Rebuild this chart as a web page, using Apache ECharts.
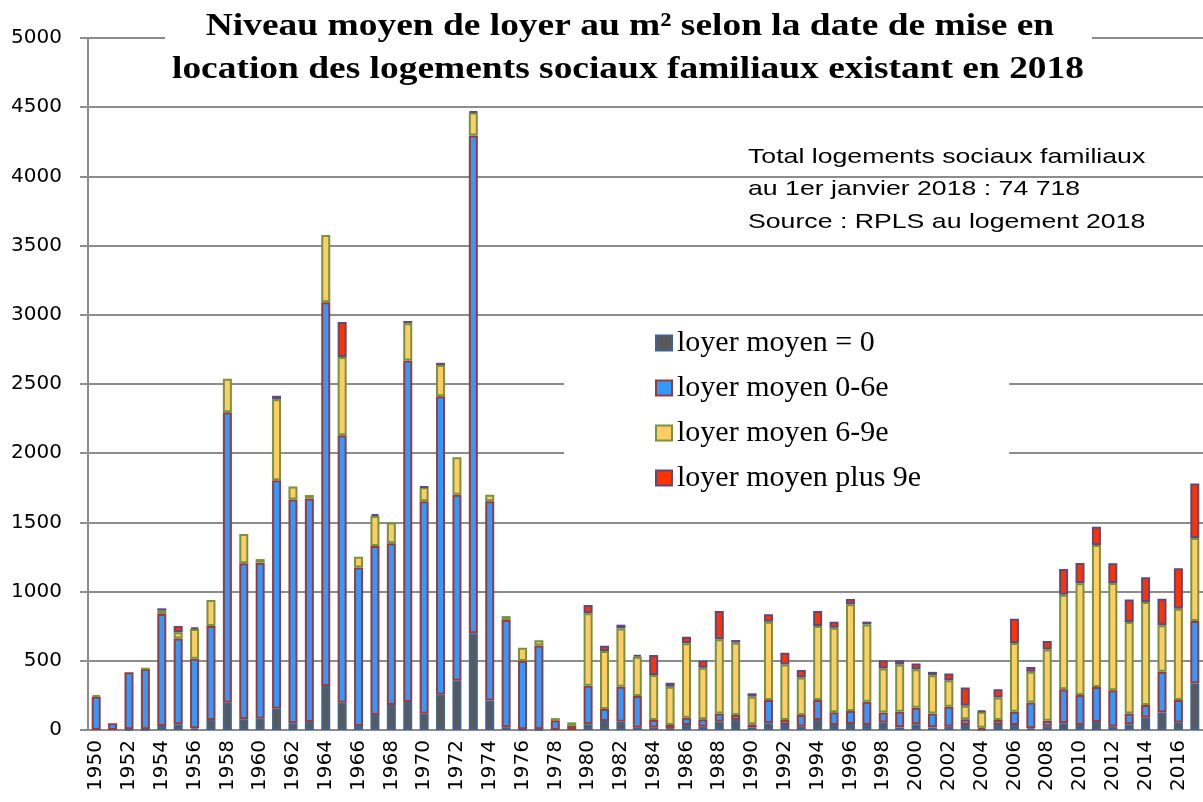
<!DOCTYPE html>
<html>
<head>
<meta charset="utf-8">
<script src="https://cdn.jsdelivr.net/npm/echarts@6/dist/echarts.min.js"></script>
<style>
  html, body { margin: 0; padding: 0; background: #fff; }
  #chart { width: 1203px; height: 802px; }
</style>
</head>
<body>
<div id="chart"></div>
<script>
// années de mise en location
var annees = [];
for (var a = 1950; a <= 2017; a++) annees.push(String(a));

// loyer moyen = 0
var loyerZero = [0, 0, 5, 5, 29, 41, 12, 72, 197, 77, 82, 154, 48, 58, 318, 197, 29, 108, 181, 203,
  118, 254, 356, 699, 213, 20, 5, 5, 0, 0, 41, 65, 60, 17, 17, 10, 36, 24, 60, 72,
  19, 48, 36, 24, 72, 36, 43, 36, 53, 19, 41, 19, 24, 36, 5, 36, 36, 12, 24, 48,
  36, 58, 24, 41, 89, 127, 53, 336];
// loyer moyen 0-6e
var loyer0a6 = [240, 48, 412, 435, 809, 621, 503, 679, 2098, 1127, 1127, 1650, 1618, 1615, 2772, 1933, 1146, 1221, 1169, 2466,
  1534, 2157, 1344, 3596, 1439, 775, 494, 605, 70, 30, 279, 87, 253, 229, 55, 26, 53, 53, 60, 36,
  22, 169, 36, 84, 145, 92, 94, 169, 74, 113, 120, 101, 144, 41, 12, 36, 96, 187, 43, 247,
  216, 252, 264, 79, 91, 293, 163, 451];
// loyer moyen 6-9e
var loyer6a9 = [12, 0, 0, 5, 24, 44, 215, 188, 243, 212, 26, 585, 94, 25, 486, 565, 77, 217, 150, 270,
  102, 226, 270, 167, 48, 28, 95, 38, 16, 25, 523, 419, 421, 284, 325, 277, 537, 373, 535, 523,
  200, 566, 402, 272, 534, 611, 771, 558, 317, 341, 278, 276, 192, 98, 115, 163, 497, 221, 514, 682,
  809, 1027, 775, 660, 744, 336, 660, 600];
// loyer moyen plus 9e
var loyerPlus9 = [0, 0, 0, 0, 17, 45, 12, 0, 0, 0, 0, 26, 0, 0, 0, 253, 0, 14, 0, 16,
  5, 16, 0, 8, 0, 0, 0, 0, 0, 0, 60, 38, 27, 12, 145, 29, 48, 53, 205, 19,
  24, 53, 85, 53, 109, 44, 38, 20, 60, 31, 41, 24, 48, 132, 7, 60, 175, 36, 62, 187,
  146, 132, 142, 163, 180, 192, 293, 394];

var chart = echarts.init(document.getElementById('chart'));

function serie(nom, valeurs, couleur, bord) {
  return {
    name: nom,
    type: 'bar',
    stack: 'total',
    barWidth: 9,
    data: valeurs.map(function (v) { return v === 0 ? null : v; }),
    itemStyle: { color: couleur, borderColor: bord, borderWidth: 2 }
  };
}

var option = {
  animation: false,
  backgroundColor: '#fff',
  grid: { left: 88, top: 38, width: 1119, bottom: 72 },
  legend: {
    orient: 'vertical',
    left: 564,
    top: 318,
    padding: [10, 88, 10, 91],
    backgroundColor: '#fff',
    itemWidth: 16,
    itemHeight: 15,
    itemGap: 15,
    icon: 'rect',
    z: 20,
    textStyle: { fontFamily: 'Liberation Serif', fontSize: 30, color: '#000' }
  },
  xAxis: {
    type: 'category',
    data: annees,
    axisLine: { lineStyle: { color: '#8c8c8c', width: 2 } },
    axisTick: { interval: 0, length: 8, lineStyle: { color: '#8c8c8c', width: 2 } },
    axisLabel: { interval: 1, rotate: 90, margin: 10, color: '#000', fontFamily: 'DejaVu Sans', fontSize: 20 }
  },
  yAxis: {
    type: 'value',
    min: 0,
    max: 5000,
    interval: 500,
    axisLine: { show: true, lineStyle: { color: '#8c8c8c', width: 2 } },
    axisTick: { show: true, length: 8, lineStyle: { color: '#8c8c8c', width: 2 } },
    axisLabel: {
      margin: 26, color: '#000', fontFamily: 'DejaVu Sans', fontSize: 20,
      formatter: function (v) { return String(v); }
    },
    splitLine: { lineStyle: { color: '#8c8c8c', width: 2 } }
  },
  graphic: [
    { type: 'rect', z: 20, shape: { x: 165, y: 0, width: 927, height: 96 }, style: { fill: '#fff' } },
    { type: 'text', z: 21, x: 630, y: 27, scaleX: 1.17,
      style: { text: 'Niveau moyen de loyer au m² selon la date de mise en', fill: '#000',
        font: 'bold 32px "Liberation Serif"', textAlign: 'center', textVerticalAlign: 'middle' } },
    { type: 'text', z: 21, x: 628, y: 70, scaleX: 1.17,
      style: { text: 'location des logements sociaux familiaux existant en 2018', fill: '#000',
        font: 'bold 32px "Liberation Serif"', textAlign: 'center', textVerticalAlign: 'middle' } },
    { type: 'text', z: 21, x: 748, y: 157, scaleX: 1.27,
      style: { text: 'Total logements sociaux familiaux', fill: '#000',
        font: '21px "Liberation Sans"', textAlign: 'left', textVerticalAlign: 'middle' } },
    { type: 'text', z: 21, x: 748, y: 189, scaleX: 1.27,
      style: { text: 'au 1er janvier 2018 : 74 718', fill: '#000',
        font: '21px "Liberation Sans"', textAlign: 'left', textVerticalAlign: 'middle' } },
    { type: 'text', z: 21, x: 748, y: 222, scaleX: 1.27,
      style: { text: 'Source : RPLS au logement 2018', fill: '#000',
        font: '21px "Liberation Sans"', textAlign: 'left', textVerticalAlign: 'middle' } }
  ],
  series: [
    serie('loyer moyen = 0', loyerZero, '#595959', '#41638f'),
    serie('loyer moyen 0-6e', loyer0a6, '#3399ff', '#993b3b'),
    serie('loyer moyen 6-9e', loyer6a9, '#ffcc66', '#77933c'),
    serie('loyer moyen plus 9e', loyerPlus9, '#ff3300', '#5f497a')
  ]
};
chart.setOption(option);
</script>
</body>
</html>
